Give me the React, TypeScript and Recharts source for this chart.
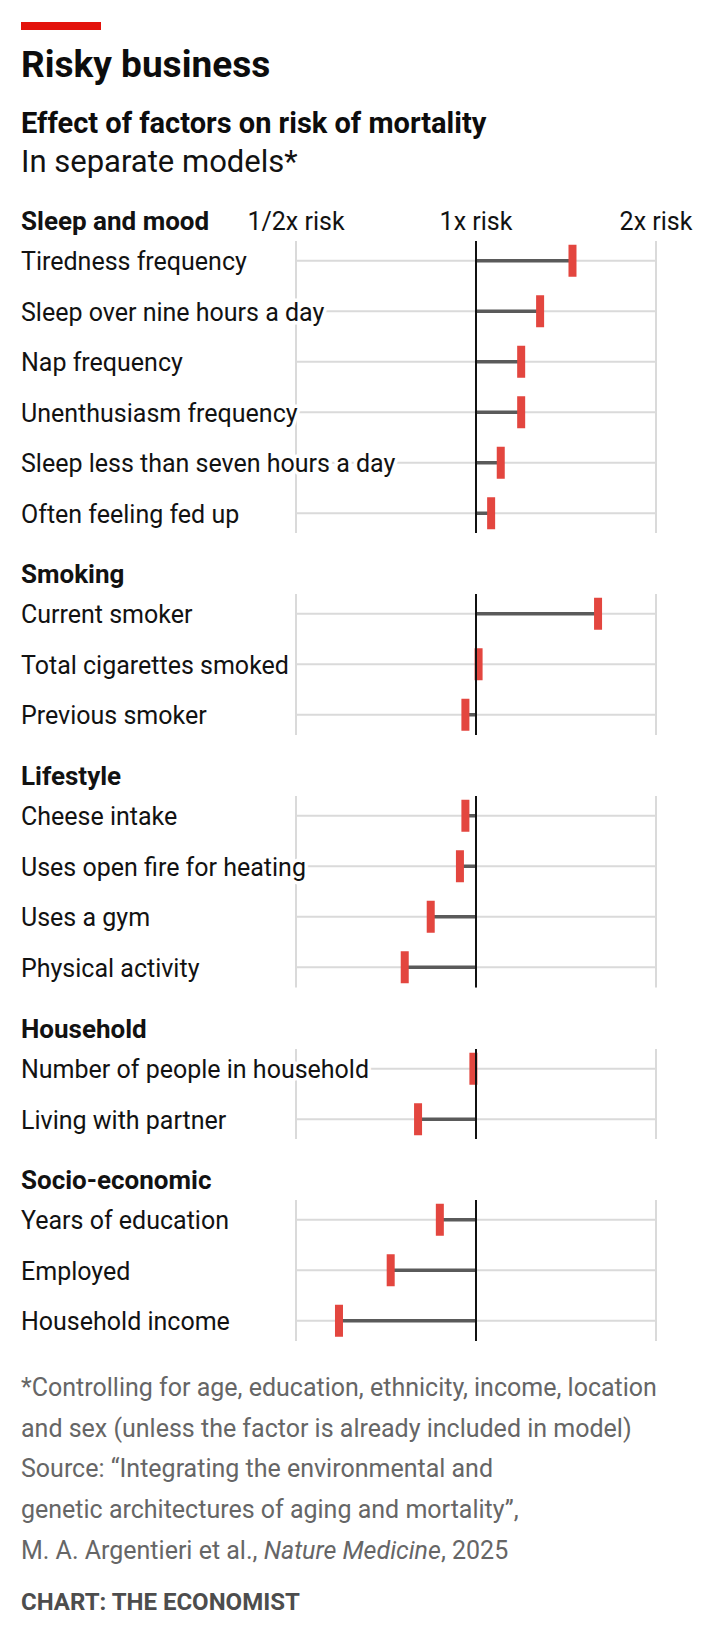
import React from "react";
import { BarChart, Bar, XAxis, YAxis, CartesianGrid, ReferenceLine } from "recharts";

// factors and relative risk of mortality (1 = no effect)
const sleepFactors = [
  "Tiredness frequency",
  "Sleep over nine hours a day",
  "Nap frequency",
  "Unenthusiasm frequency",
  "Sleep less than seven hours a day",
  "Often feeling fed up",
];
const sleepRisk = [1.45, 1.28, 1.19, 1.19, 1.1, 1.06];

const smokingFactors = ["Current smoker", "Total cigarettes smoked", "Previous smoker"];
const smokingRisk = [1.6, 1.01, 0.96];

const lifestyleFactors = ["Cheese intake", "Uses open fire for heating", "Uses a gym", "Physical activity"];
const lifestyleRisk = [0.96, 0.94, 0.84, 0.76];

const householdFactors = ["Number of people in household", "Living with partner"];
const householdRisk = [0.99, 0.8];

const socioFactors = ["Years of education", "Employed", "Household income"];
const socioRisk = [0.87, 0.72, 0.59];

const groupNames = ["Sleep and mood", "Smoking", "Lifestyle", "Household", "Socio-economic"];

const riskTicks = [0.5, 1, 2];
const riskTickLabels = ["1/2x risk", "1x risk", "2x risk"];

const footnoteLines = [
  "*Controlling for age, education, ethnicity, income, location",
  "and sex (unless the factor is already included in model)",
  "Source: \u201cIntegrating the environmental and",
  "genetic architectures of aging and mortality\u201d,",
];

const FONT = "Roboto, 'Noto Sans', sans-serif";
const RED = "#e3463f";
const ROW = 50.5;
const FIRST_ROW = 260.5;
const GROUP_GAP = 101;
const AXIS_H = 40;
const PLOT_LEFT = 296;
const PLOT_RIGHT = 68;

type Row = { factor: string; risk: number };

const toRows = (factors: string[], risk: number[]): Row[] =>
  factors.map((factor, i) => ({ factor, risk: risk[i] }));

const groupRows = [
  toRows(sleepFactors, sleepRisk),
  toRows(smokingFactors, smokingRisk),
  toRows(lifestyleFactors, lifestyleRisk),
  toRows(householdFactors, householdRisk),
  toRows(socioFactors, socioRisk),
];

function TextAt({
  y,
  size,
  weight = 400,
  color = "#121212",
  children,
}: {
  y: number;
  size: number;
  weight?: number;
  color?: string;
  children: React.ReactNode;
}) {
  return (
    <div
      style={{
        position: "absolute",
        left: 21,
        top: y - 0.842 * size,
        fontSize: size,
        lineHeight: `${size}px`,
        fontWeight: weight,
        color,
        whiteSpace: "nowrap",
      }}
    >
      {children}
    </div>
  );
}

function RiskTick(props: any) {
  const { x, y, payload } = props;
  const label = riskTickLabels[riskTicks.indexOf(payload.value)];
  return (
    <text x={x} y={y - 11} textAnchor="middle" fontSize={25} fontFamily={FONT} fill="#121212">
      {label}
    </text>
  );
}

function FactorTick(props: any) {
  const { y, payload } = props;
  return (
    <text
      x={21}
      y={y}
      dy={9}
      fontSize={25}
      fontFamily={FONT}
      fill="#121212"
      stroke="#fff"
      strokeWidth={7}
      strokeLinejoin="round"
      paintOrder="stroke"
    >
      {payload.value}
    </text>
  );
}

function RiskMark(props: any) {
  const { x, y, width, height, background, payload } = props;
  const cy = y + height / 2;
  const a = x;
  const b = x + width;
  const up = payload.risk >= 1;
  const end = up ? Math.max(a, b) : Math.min(a, b);
  const base = up ? Math.min(a, b) : Math.max(a, b);
  return (
    <g>
      {background ? (
        <line
          x1={background.x}
          x2={background.x + background.width}
          y1={cy}
          y2={cy}
          stroke="#dadada"
          strokeWidth={2}
        />
      ) : null}
      <line x1={base} x2={end} y1={cy} y2={cy} stroke="#5a5a5a" strokeWidth={3.5} />
      <rect x={end - 4} y={cy - 16} width={8} height={32} fill={RED} />
    </g>
  );
}

function GroupChart({ rows, firstRow, withAxis }: { rows: Row[]; firstRow: number; withAxis: boolean }) {
  const axisH = withAxis ? AXIS_H : 0;
  const plotH = (rows.length - 1) * ROW + 40;
  return (
    <div style={{ position: "absolute", left: 0, top: firstRow - 20 - axisH }}>
      <BarChart
        width={724}
        height={plotH + axisH}
        data={rows}
        layout="vertical"
        margin={{ top: 0, right: PLOT_RIGHT, bottom: 0, left: 0 }}
      >
        <CartesianGrid horizontal={false} stroke="#dadada" strokeWidth={2} />
        <XAxis
          type="number"
          scale="log"
          domain={[0.5, 2]}
          ticks={riskTicks}
          allowDataOverflow
          orientation="top"
          hide={!withAxis}
          height={AXIS_H}
          axisLine={false}
          tickLine={false}
          tickSize={0}
          tickMargin={0}
          tick={<RiskTick />}
        />
        <YAxis
          type="category"
          dataKey="factor"
          width={PLOT_LEFT}
          axisLine={false}
          tickLine={false}
          interval={0}
          padding={{ top: -5.25, bottom: -5.25 }}
          tick={<FactorTick />}
        />
        <ReferenceLine x={1} stroke="#111" strokeWidth={2} />
        <Bar
          dataKey={(d: Row) => [1, d.risk]}
          shape={<RiskMark />}
          barSize={10}
          isAnimationActive={false}
        />
      </BarChart>
    </div>
  );
}

export default function App() {
  const firstRows: number[] = [];
  let cursor = FIRST_ROW;
  groupRows.forEach((rows) => {
    firstRows.push(cursor);
    cursor += (rows.length - 1) * ROW + GROUP_GAP;
  });
  const footTop = 1396;
  const footStep = 40.7;

  return (
    <div
      style={{
        position: "relative",
        width: 724,
        height: 1638,
        background: "#fff",
        fontFamily: FONT,
        overflow: "hidden",
      }}
    >
      <style>{"body{margin:0}"}</style>
      <div style={{ position: "absolute", left: 21, top: 22, width: 80, height: 8, background: "#e3120b" }} />
      <TextAt y={77} size={37} weight={700} color="#0d0d0d">
        Risky business
      </TextAt>
      <TextAt y={133} size={29} weight={700} color="#0d0d0d">
        Effect of factors on risk of mortality
      </TextAt>
      <TextAt y={172} size={31}>
        In separate models*
      </TextAt>

      {groupRows.map((rows, i) => (
        <React.Fragment key={groupNames[i]}>
          <TextAt y={firstRows[i] - 31} size={26} weight={700}>
            {groupNames[i]}
          </TextAt>
          <GroupChart rows={rows} firstRow={firstRows[i]} withAxis={i === 0} />
        </React.Fragment>
      ))}

      {footnoteLines.map((line, i) => (
        <TextAt key={line} y={footTop + i * footStep} size={25} color="#666">
          {line}
        </TextAt>
      ))}
      <TextAt y={footTop + 4 * footStep} size={25} color="#666">
        M. A. Argentieri et al., <i>Nature Medicine</i>, 2025
      </TextAt>
      <TextAt y={1610} size={24} weight={700} color="#4d4d4d">
        CHART: THE ECONOMIST
      </TextAt>
    </div>
  );
}
